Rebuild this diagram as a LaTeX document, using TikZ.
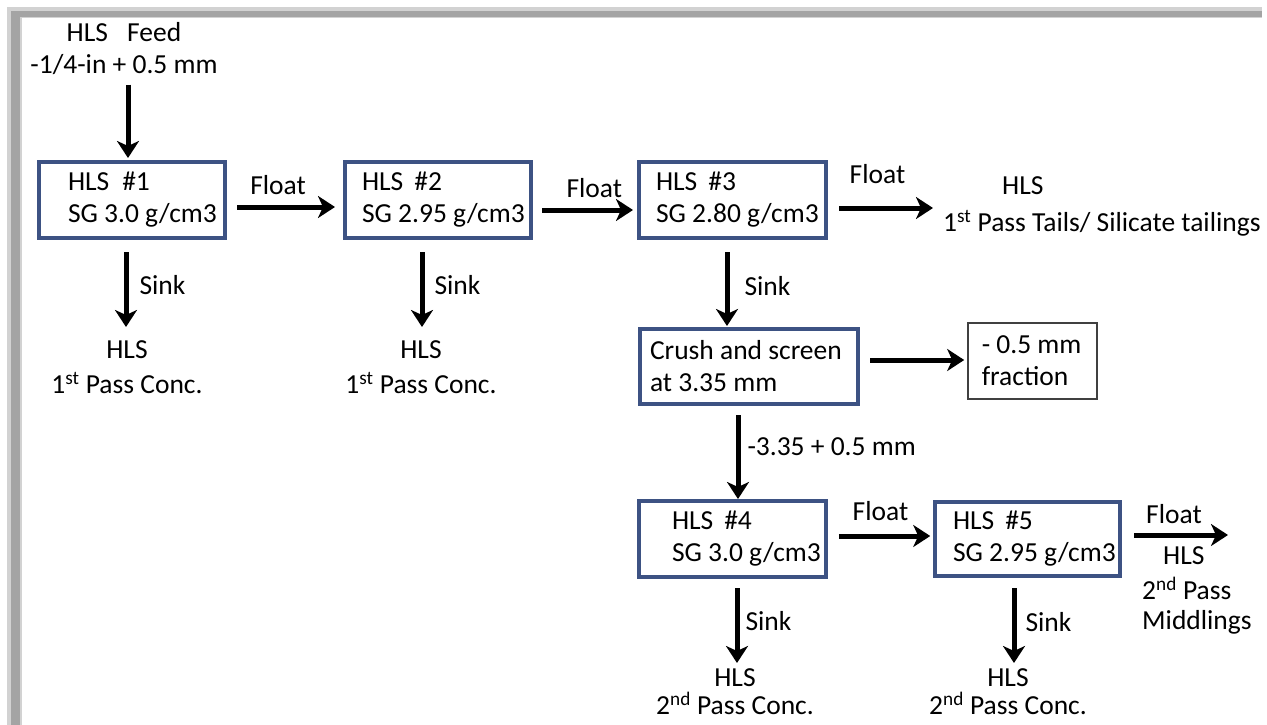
\documentclass[tikz,border=0pt]{standalone}
\usepackage{fontspec}
\setmainfont{Carlito}
\usetikzlibrary{arrows.meta,calc}
\definecolor{boxc}{HTML}{3D5283}
\definecolor{framel}{HTML}{D2D2D2}
\definecolor{framed}{HTML}{A4A4A4}
\newcommand\boxline[3]{\makebox[#1pt][l]{\hspace*{#2pt}#3}}
\begin{document}
\begin{tikzpicture}[x=1pt,y=-1pt,
  every node/.style={font=\fontsize{27.5}{32}\selectfont, inner sep=0pt},
  box/.style={draw=boxc, line width=4pt, fill=white, minimum height=76pt, align=left},
  fracbox/.style={draw=black!75, line width=1.6pt, fill=white, minimum height=76.5pt, align=left},
  arr/.style={line width=5pt, -{Stealth[length=17pt,width=22pt,inset=5pt]}},
  lab/.style={align=center},
  tag/.style={anchor=base},
  sidetag/.style={anchor=base west},
]
\useasboundingbox (0,0) rectangle (1267,725);
\fill[white] (0,0) rectangle (1267,725);
% frame shadow
\fill[framel] (7,7) rectangle (1262,18);
\fill[framel] (7,7) rectangle (22,725);
\fill[framed] (11,11) rectangle (1262,17);
\fill[framed] (11,11) rectangle (20,725);

% boxes
\node[box] (b1) at (132,200) {\boxline{186}{29}{HLS\hspace{13pt}\#1}\\\boxline{186}{29}{SG 3.0 g/cm3}};
\node[box] (b2) at (438,200) {\boxline{186}{17}{HLS\hspace{11pt}\#2}\\\boxline{186}{17}{SG 2.95 g/cm3}};
\node[box] (b3) at (732.5,200) {\boxline{187}{17}{HLS\hspace{11pt}\#3}\\\boxline{187}{17}{SG 2.80 g/cm3}};
\node[box, minimum height=75pt] (crush) at (749,366.5) {\boxline{218}{10}{Crush and screen}\\\boxline{218}{10}{at 3.35 mm}};
\node[fracbox] (frac) at (1032.5,361) {\boxline{129.5}{14}{- 0.5 mm}\\\boxline{129.5}{14}{fraction}};
\node[box] (b4) at (732.5,539) {\boxline{187}{33}{HLS\hspace{11pt}\#4}\\\boxline{187}{33}{SG 3.0 g/cm3}};
\node[box, minimum height=74pt] (b5) at (1027.5,539) {\boxline{185}{18}{HLS\hspace{11pt}\#5}\\\boxline{185}{18}{SG 2.95 g/cm3}};

% text nodes
\node[lab, anchor=north] (feed) at (124,22) {HLS\hspace{0.7em}Feed\\-1/4-in + 0.5 mm};
\node[align=left, anchor=north west] (tails) at (943,176) {\hspace*{59pt}HLS\\[5pt]1\textsuperscript{st} Pass Tails/ Silicate tailings};
\node[lab, anchor=north] (c1) at (127,340) {HLS\\[3pt]1\textsuperscript{st} Pass Conc.};
\node[lab, anchor=north] (c2) at (421,340) {HLS\\[3pt]1\textsuperscript{st} Pass Conc.};
\node[lab, anchor=north] (c4) at (735,668) {HLS\\[-4pt]2\textsuperscript{nd} Pass Conc.};
\node[lab, anchor=north] (c5) at (1008,668) {HLS\\[-4pt]2\textsuperscript{nd} Pass Conc.};
\node[align=left, anchor=north west] (midl) at (1142,546) {\hspace*{21pt}HLS\\[3pt]2\textsuperscript{nd} Pass\\[-2pt]Middlings};
\coordinate (m5) at (1228,535);

% connectors
\draw[arr, shorten <=10pt, shorten >=2pt] ([xshift=4pt]feed.south) -- ([xshift=4pt]feed.south |- b1.north);

\draw[arr, shorten <=10pt, shorten >=8pt] ([yshift=-7pt]b1.east) -- ([yshift=-7pt]b1.east -| b2.west)
  node[tag, pos=.44, yshift=13pt] {Float};
\draw[arr, shorten <=9pt, shorten >=4pt] ([yshift=-10pt]b2.east) -- ([yshift=-10pt]b2.east -| b3.west)
  node[tag, pos=.59, yshift=13pt] {Float};
\draw[arr, shorten <=11pt, shorten >=10pt] ([yshift=-8pt]b3.east) -- ([yshift=-8pt]b3.east -| tails.west)
  node[tag, pos=.43, yshift=25pt] {Float};

\draw[arr, shorten <=12pt, shorten >=13pt] ([xshift=-6pt]b1.south) -- ([xshift=-6pt]b1.south |- c1.north)
  node[sidetag, midway, xshift=11pt, yshift=-4pt] {Sink};
\draw[arr, shorten <=12pt, shorten >=13pt] ([xshift=-16pt]b2.south) -- ([xshift=-16pt]b2.south |- c2.north)
  node[sidetag, midway, xshift=10pt, yshift=-4pt] {Sink};
\draw[arr, shorten <=12pt, shorten >=1pt] ([xshift=-5.5pt]b3.south) -- ([xshift=-5.5pt]b3.south |- crush.north)
  node[sidetag, midway, xshift=15pt, yshift=-11.5pt] {Sink};

\draw[arr, shorten <=10pt, shorten >=2.75pt] ([yshift=6.5pt]crush.east) -- ([yshift=6.5pt]crush.east -| frac.west);
\draw[arr, shorten <=9pt] ([xshift=-11pt]crush.south) -- ([xshift=-11pt]crush.south |- b4.north)
  node[sidetag, midway, xshift=7pt, yshift=-2.5pt] {-3.35 + 0.5 mm};

\draw[arr, shorten <=10.75pt, shorten >=2.75pt] ([yshift=3pt]b4.east) -- ([yshift=3pt]b4.east -| b5.west)
  node[tag, pos=.5, yshift=16pt] {Float};
\draw[arr, shorten <=9pt, shorten >=5pt] ([xshift=4.5pt]b4.south) -- ([xshift=4.5pt]b4.south |- c4.north)
  node[sidetag, midway, xshift=6pt, yshift=-7.4pt] {Sink};
\draw[arr, shorten <=10pt, shorten >=5pt] ([xshift=-13.5pt]b5.south) -- ([xshift=-13.5pt]b5.south |- c5.north)
  node[sidetag, midway, xshift=9pt, yshift=-8pt] {Sink};
\draw[arr, shorten <=12pt] ([yshift=4pt]b5.east) -- (m5)
  node[tag, pos=.49, yshift=12pt] {Float};
\end{tikzpicture}
\end{document}
